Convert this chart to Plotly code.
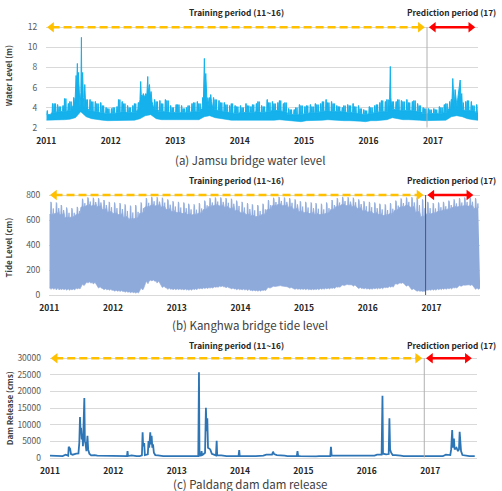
import pandas as pd
import plotly.graph_objects as go

FONT = "Noto Sans CJK KR"

# ---------------- data ----------------
year_ticks = [2011, 2012, 2013, 2014, 2015, 2016, 2017]
first_month = "2011-01-01"
train_start = "2011-01-01"
split_date = "2016-11-28"
pred_end = "2017-09-02"
period_titles = ["Training period (11~16)", "Prediction period (17)"]
captions = ["(a) Jamsu bridge water level", "(b) Kanghwa bridge tide level",
            "(c) Paldang dam dam release"]
y_titles = ["Water Level (m)", "Tide Level (cm)", "Dam Release (cms)"]

# (a) Jamsu bridge water level (m): monthly band top / bottom and two spring-tide teeth
wl_band_top = [
    3.3, 3.5, 3.6, 3.6, 3.7, 4.2, 4.5, 3.9, 3.7, 3.6, 3.5, 3.4,
    3.4, 3.5, 3.6, 3.5, 3.5, 3.8, 4.5, 4.6, 3.8, 3.6, 3.6, 3.5,
    3.5, 3.5, 3.5, 3.6, 3.6, 3.9, 4.0, 3.8, 3.7, 3.6, 3.5, 3.4,
    3.5, 3.5, 3.5, 3.6, 3.5, 3.6, 3.7, 3.7, 3.6, 3.3, 3.3, 3.3,
    3.4, 3.5, 3.5, 3.6, 3.7, 3.6, 3.6, 3.6, 3.5, 3.5, 3.4, 3.3,
    3.4, 3.5, 3.6, 3.6, 3.8, 3.8, 3.7, 3.7, 3.7, 3.6, 3.4, 3.4,
    3.4, 3.4, 3.5, 3.9, 4.0, 3.8, 3.7, 3.7, 3.5]
wl_band_bottom = [
    2.75, 2.75, 2.8, 2.8, 2.85, 3.0, 3.6, 3.1, 2.9, 2.8, 2.75, 2.7,
    2.7, 2.7, 2.75, 2.75, 2.75, 2.9, 3.2, 3.3, 2.9, 2.8, 2.8, 2.75,
    2.75, 2.75, 2.75, 2.8, 2.8, 3.1, 3.2, 3.0, 2.9, 2.8, 2.75, 2.75,
    2.75, 2.75, 2.75, 2.75, 2.7, 2.7, 2.75, 2.8, 2.75, 2.65, 2.6, 2.6,
    2.7, 2.7, 2.7, 2.75, 2.8, 2.75, 2.7, 2.7, 2.7, 2.7, 2.65, 2.6,
    2.7, 2.7, 2.75, 2.8, 3.0, 2.9, 2.8, 2.8, 2.8, 2.75, 2.7, 2.7,
    2.7, 2.7, 2.75, 3.1, 3.2, 3.1, 2.9, 2.8, 2.7]
wl_tooth_a = [
    3.7, 4.4, 4.3, 4.2, 4.4, 5.0, 5.0, 5.0, 4.8, 4.6, 4.5, 4.0,
    3.9, 4.1, 4.6, 4.2, 4.2, 4.5, 5.0, 5.0, 4.8, 4.7, 4.8, 4.2,
    4.3, 4.2, 4.0, 4.4, 4.6, 5.0, 5.4, 5.0, 4.7, 4.5, 4.2, 4.2,
    4.2, 4.4, 4.1, 4.4, 4.2, 4.8, 4.6, 4.5, 4.4, 3.9, 3.8, 4.3,
    4.1, 4.3, 4.4, 4.4, 4.8, 4.6, 4.2, 4.0, 4.3, 4.4, 4.2, 3.8,
    4.1, 4.2, 4.5, 4.6, 5.0, 4.6, 4.7, 4.8, 4.6, 4.4, 4.0, 3.9,
    3.9, 4.1, 4.3, 4.6, 4.6, 4.8, 4.6, 4.6, 4.3]
wl_tooth_b = [
    3.3, 4.4, 4.1, 4.9, 4.6, 5.2, 5.0, 4.8, 4.6, 4.4, 4.2, 3.9,
    4.0, 4.8, 4.4, 4.0, 4.4, 4.6, 5.2, 5.0, 4.6, 4.4, 4.7, 4.0,
    4.3, 3.9, 4.2, 4.5, 4.4, 5.2, 5.0, 4.8, 4.5, 4.3, 4.4, 4.1,
    4.0, 4.2, 4.3, 4.6, 4.1, 4.5, 4.4, 4.7, 4.5, 3.8, 4.0, 4.2,
    4.2, 4.1, 4.3, 4.6, 4.5, 4.4, 4.1, 4.2, 4.2, 4.1, 3.9, 3.7,
    4.0, 4.3, 4.7, 4.8, 4.6, 4.8, 4.6, 4.5, 4.7, 4.2, 3.9, 3.8,
    3.8, 4.0, 4.4, 4.8, 4.5, 4.5, 4.7, 4.2, 3.6]
wl_floods = [
    ("2011-06-14", 5.0), ("2011-06-19", 7.2), ("2011-06-22", 6.0), ("2011-06-26", 8.4),
    ("2011-06-29", 6.5), ("2011-07-02", 7.5), ("2011-07-06", 5.0), ("2011-07-11", 4.0),
    ("2011-07-16", 5.5), ("2011-07-19", 11.0), ("2011-07-21", 6.0), ("2011-07-26", 7.5),
    ("2011-07-30", 5.0), ("2011-08-07", 6.3), ("2011-08-11", 4.6),
    ("2012-06-15", 4.8), ("2012-06-19", 6.6), ("2012-06-22", 5.3), ("2012-06-27", 5.0),
    ("2012-07-04", 5.4), ("2012-07-11", 5.0), ("2012-07-18", 5.4), ("2012-07-24", 5.2),
    ("2012-07-29", 7.1), ("2012-08-01", 5.5), ("2012-08-08", 6.3), ("2012-08-12", 5.0),
    ("2012-08-17", 5.6), ("2012-08-22", 4.6),
    ("2013-06-10", 5.0), ("2013-06-15", 8.9), ("2013-06-18", 6.0), ("2013-06-23", 7.4),
    ("2013-06-27", 5.2), ("2013-07-05", 5.0), ("2013-07-21", 5.3), ("2013-07-25", 4.6),
    ("2016-04-30", 4.8), ("2016-05-04", 8.1), ("2016-05-07", 5.0),
    ("2017-04-19", 4.8), ("2017-04-23", 6.9), ("2017-04-27", 5.0), ("2017-05-06", 5.8),
    ("2017-05-10", 4.6), ("2017-05-22", 5.0), ("2017-06-04", 6.75), ("2017-06-08", 5.0),
    ("2017-06-13", 5.4)]

# (b) Kanghwa bridge tide level (cm): monthly spring-tide top, neap top, low envelope
tide_spring = [
    745, 740, 720, 700, 695, 705, 770, 780, 778, 775, 760, 745,
    740, 735, 725, 715, 720, 740, 775, 785, 782, 778, 765, 750,
    745, 740, 730, 725, 735, 755, 775, 780, 780, 775, 770, 755,
    745, 735, 725, 720, 730, 760, 778, 785, 780, 775, 765, 750,
    745, 740, 735, 730, 740, 760, 775, 785, 782, 778, 765, 750,
    745, 740, 730, 725, 735, 755, 772, 780, 782, 778, 765, 745,
    735, 740, 745, 755, 765, 775, 780, 782, 775]
tide_neap = [
    640, 650, 640, 615, 620, 640, 700, 715, 710, 705, 680, 660,
    650, 640, 620, 605, 610, 650, 700, 715, 712, 700, 680, 665,
    655, 650, 640, 640, 650, 680, 705, 715, 710, 700, 690, 670,
    655, 640, 630, 625, 640, 680, 710, 720, 710, 700, 685, 665,
    655, 650, 645, 640, 650, 680, 705, 718, 712, 705, 690, 670,
    660, 650, 640, 635, 645, 675, 700, 710, 700, 660, 625, 645,
    650, 665, 675, 685, 700, 705, 710, 710, 690]
tide_low = [
    55, 55, 50, 50, 48, 55, 75, 105, 100, 65, 50, 45,
    38, 35, 30, 25, 22, 40, 90, 120, 110, 70, 55, 50,
    50, 48, 45, 50, 55, 58, 60, 65, 72, 65, 55, 50,
    48, 45, 40, 38, 40, 55, 68, 75, 72, 60, 52, 50,
    50, 48, 50, 52, 55, 58, 65, 75, 85, 80, 60, 55,
    52, 55, 58, 62, 70, 85, 98, 80, 50, 35, 32, 42,
    45, 50, 52, 55, 60, 70, 80, 82, 55]
tide_low_mid = [
    45, 40, 42, 38, 40, 48, 85, 95, 88, 55, 42, 38,
    30, 28, 22, 18, 15, 55, 110, 112, 95, 60, 45, 42,
    42, 40, 38, 42, 48, 52, 55, 62, 66, 58, 48, 42,
    40, 36, 32, 30, 35, 60, 70, 72, 66, 55, 45, 44,
    42, 40, 42, 45, 48, 52, 62, 80, 82, 70, 52, 48,
    45, 48, 50, 58, 62, 90, 92, 70, 42, 30, 28, 38,
    38, 42, 45, 48, 55, 75, 78, 75, 45]

# (c) Paldang dam release (cms): monthly base flow and release events
dam_base = [
    600, 550, 500, 900, 900, 1200, 2500, 1200, 800, 600, 500, 500,
    500, 450, 500, 700, 500, 500, 900, 900, 700, 500, 450, 450,
    450, 450, 500, 600, 800, 1500, 2000, 1200, 700, 500, 450, 500,
    450, 400, 450, 500, 600, 900, 1300, 800, 600, 500, 700, 450,
    400, 400, 400, 450, 600, 1000, 600, 500, 450, 400, 500, 500,
    500, 600, 900, 1200, 1500, 800, 600, 500, 500, 450, 400, 400,
    400, 400, 450, 900, 2000, 2000, 700, 500, 450]
dam_events = [
    ("2011-04-16", 600), ("2011-04-19", 3300), ("2011-04-23", 2900), ("2011-04-27", 2700),
    ("2011-05-02", 1100), ("2011-05-12", 900), ("2011-06-14", 1300), ("2011-06-19", 4500),
    ("2011-06-23", 12300), ("2011-06-26", 8000), ("2011-06-29", 9000), ("2011-07-03", 5500),
    ("2011-07-07", 7200), ("2011-07-10", 3500), ("2011-07-14", 15000), ("2011-07-18", 18000),
    ("2011-07-21", 5000), ("2011-07-25", 4200), ("2011-07-30", 2000), ("2011-08-05", 6600),
    ("2011-08-09", 2500), ("2011-08-16", 1200), ("2011-08-26", 700),
    ("2012-03-20", 500), ("2012-03-23", 2000), ("2012-03-26", 500), ("2012-06-14", 700),
    ("2012-06-18", 7650), ("2012-06-21", 3500), ("2012-06-27", 4400), ("2012-07-01", 800),
    ("2012-07-18", 1000), ("2012-07-22", 5000), ("2012-07-26", 3000), ("2012-08-01", 7650),
    ("2012-08-05", 4000), ("2012-08-09", 6600), ("2012-08-13", 3000), ("2012-08-17", 4000),
    ("2012-08-22", 1500), ("2012-08-30", 800),
    ("2013-05-05", 500), ("2013-05-09", 25770), ("2013-05-12", 600), ("2013-05-21", 700),
    ("2013-05-24", 2000), ("2013-05-27", 700), ("2013-06-13", 1500), ("2013-06-18", 15090),
    ("2013-06-22", 8000), ("2013-06-26", 11900), ("2013-06-30", 3000), ("2013-07-06", 2800),
    ("2013-07-13", 2500), ("2013-07-22", 1200), ("2013-08-15", 700), ("2013-08-19", 5130),
    ("2013-08-22", 700), ("2013-12-23", 500), ("2013-12-27", 2300), ("2013-12-30", 500),
    ("2014-07-04", 900), ("2014-07-10", 1800), ("2014-07-16", 1100), ("2014-11-24", 500),
    ("2014-11-28", 2000), ("2014-12-02", 500),
    ("2015-06-05", 500), ("2015-06-09", 3300), ("2015-06-13", 600),
    ("2016-03-27", 900), ("2016-04-01", 18700), ("2016-04-04", 1200), ("2016-04-22", 1000),
    ("2016-05-07", 1100), ("2016-05-11", 11900), ("2016-05-15", 2500), ("2016-05-21", 1500),
    ("2016-05-30", 800),
    ("2017-04-27", 800), ("2017-05-02", 2500), ("2017-05-08", 8360), ("2017-05-12", 3000),
    ("2017-05-18", 5800), ("2017-05-22", 2500), ("2017-06-02", 3000), ("2017-06-10", 2000),
    ("2017-06-16", 2500), ("2017-06-20", 7850), ("2017-06-24", 2500), ("2017-06-28", 2000),
    ("2017-07-06", 800)]

# ---------------- build paths ----------------
D = lambda d: pd.Timedelta(days=d)
months = pd.date_range(first_month, periods=len(wl_band_top), freq="MS")


def merge(regular, events, window):
    ev = [(pd.Timestamp(d), v) for d, v in events]
    keep = [(t, v) for t, v in regular
            if all(abs((t - e).days) > window for e, _ in ev)]
    pts = sorted(keep + ev)
    return [p[0] for p in pts], [p[1] for p in pts]


wl_reg = []
for i, ms in enumerate(months):
    top, a, b = wl_band_top[i], wl_tooth_a[i], wl_tooth_b[i]
    wl_reg += [(ms, top), (ms + D(2), top), (ms + D(4), a), (ms + D(6), a), (ms + D(8), top),
               (ms + D(11), top), (ms + D(13), b), (ms + D(14), b), (ms + D(16), top),
               (ms + D(19), top), (ms + D(21), b), (ms + D(23), top)]
wl_up_x, wl_up_y = merge(wl_reg, wl_floods, 3)
wl_lo_x = [months[0]] + [ms + D(14) for ms in months] + [months[-1] + D(27)]
wl_lo_y = [wl_band_bottom[0]] + wl_band_bottom + [wl_band_bottom[-1]]

td_up_x, td_up_y = [], []
for i, ms in enumerate(months):
    n, s = tide_neap[i], tide_spring[i]
    for dd, v in [(0, n), (7, n + 10), (9, s), (12, s - 10), (14, n),
                  (21, n + 15), (23, (n + s) / 2), (25, n + 5)]:
        td_up_x.append(ms + D(dd))
        td_up_y.append(v)
td_lo_x, td_lo_y = [months[0]], [tide_low[0]]
for i, ms in enumerate(months):
    td_lo_x += [ms + D(4), ms + D(9), ms + D(19), ms + D(25)]
    td_lo_y += [tide_low[i], tide_low_mid[i], tide_low[i], tide_low_mid[i]]
td_lo_x.append(months[-1] + D(36))
td_lo_y.append(tide_low[-1])

dam_reg = []
for i, ms in enumerate(months):
    dam_reg += [(ms, dam_base[i]), (ms + D(14), dam_base[i])]
dam_x, dam_y = merge(dam_reg, dam_events, 10)

# ---------------- figure ----------------
W, H = 502, 491
panels = [
    dict(left=46.3, right=478.0, bottom=127.7, top=21.28, xr=["2011-01-01", "2017-09-13"],
         yr=[2, 12.6], tv=[2, 4, 6, 8, 10, 12], ytop=12, ybot=2, split_color="#b0b0b0",
         title_y=12.2, cap_y=159.5, ytitle_x=8.3, ytitle_y=76),
    dict(left=49.3, right=480.0, bottom=295.0, top=188.75, xr=["2011-01-01", "2017-10-06"],
         yr=[0, 850], tv=[0, 200, 400, 600, 800], ytop=800, ybot=0, split_color="#4d5670",
         title_y=180.3, cap_y=325, ytitle_x=7.5, ytitle_y=248),
    dict(left=50.0, right=477.0, bottom=457.7, top=351.67, xr=["2011-01-01", "2017-09-28"],
         yr=[0, 32000], tv=[0, 5000, 10000, 15000, 20000, 25000, 30000], ytop=30000, ybot=0,
         split_color="#b0b0b0", title_y=344.5, cap_y=483.5, ytitle_x=9.3, ytitle_y=408),
]

fig = go.Figure()
WL = "#14b1ec"
TIDE = "#8eaadb"
DAM = "#2e75b6"

fig.add_trace(go.Scatter(x=wl_lo_x, y=wl_lo_y, mode="lines", line=dict(color=WL, width=0.6),
                         xaxis="x", yaxis="y", hoverinfo="skip"))
fig.add_trace(go.Scatter(x=wl_up_x, y=wl_up_y, mode="lines", line=dict(color=WL, width=1.0),
                         fill="tonexty", fillcolor=WL, xaxis="x", yaxis="y", hoverinfo="skip"))
fig.add_trace(go.Scatter(x=td_lo_x, y=td_lo_y, mode="lines", line=dict(color=TIDE, width=0.6),
                         xaxis="x2", yaxis="y2", hoverinfo="skip"))
fig.add_trace(go.Scatter(x=td_up_x, y=td_up_y, mode="lines", line=dict(color=TIDE, width=0.8),
                         fill="tonexty", fillcolor=TIDE, xaxis="x2", yaxis="y2", hoverinfo="skip"))
fig.add_trace(go.Scatter(x=dam_x, y=dam_y, mode="lines", line=dict(color=DAM, width=1.8),
                         xaxis="x3", yaxis="y3", hoverinfo="skip"))

t0 = pd.Timestamp(train_start)
ts = pd.Timestamp(split_date)
te = pd.Timestamp(pred_end)
head = 30  # days from marker centre to arrow tip

annotations = []
shapes = []
for k, p in enumerate(panels):
    sx = "" if k == 0 else str(k + 1)
    xa, ya = "x" + sx, "y" + sx
    fig.update_layout({
        "xaxis" + sx: dict(
            domain=[p["left"] / W, p["right"] / W], range=p["xr"], type="date",
            anchor=ya, tickvals=[f"{y}-01-01" for y in year_ticks],
            ticktext=[str(y) for y in year_ticks], showgrid=False, zeroline=False,
            showline=True, linecolor="#d9d9d9", linewidth=1, ticks="", automargin=False,
            tickfont=dict(family=FONT, size=8.5, color="#262626", weight="bold"),
            ticklabelstandoff=5, fixedrange=True),
        "yaxis" + sx: dict(
            domain=[1 - p["bottom"] / H, 1 - p["top"] / H], range=p["yr"], anchor=xa,
            tickvals=p["tv"], ticktext=[str(v) for v in p["tv"]], showgrid=True,
            gridcolor="#d9d9d9", gridwidth=1, zeroline=False, showline=False, ticks="",
            automargin=False,
            tickfont=dict(family=FONT, size=8.5, color="#595959"),
            ticklabelstandoff=8, fixedrange=True),
    })
    yt = p["ytop"]
    shapes.append(dict(type="line", xref=xa, yref=ya, x0=ts, x1=ts, y0=p["ybot"], y1=yt,
                       line=dict(color=p["split_color"], width=1), layer="above"))
    xl, xr_ = t0 + D(head), ts - D(head + 8)
    fig.add_trace(go.Scatter(x=[xl, xr_], y=[yt, yt], mode="lines", xaxis=xa, yaxis=ya,
                             line=dict(color="#ffc000", width=2.6, dash="8px,4px"),
                             hoverinfo="skip", cliponaxis=False))
    fig.add_trace(go.Scatter(x=[xl, xr_], y=[yt, yt], mode="markers", xaxis=xa, yaxis=ya,
                             marker=dict(symbol=["triangle-left", "triangle-right"], size=9,
                                         color="#ffc000"),
                             hoverinfo="skip", cliponaxis=False))
    pl, pr = ts + D(head + 6), te - D(head)
    fig.add_trace(go.Scatter(x=[pl, pr], y=[yt, yt], mode="lines", xaxis=xa, yaxis=ya,
                             line=dict(color="#ff0000", width=2.6),
                             hoverinfo="skip", cliponaxis=False))
    fig.add_trace(go.Scatter(x=[pl, pr], y=[yt, yt], mode="markers", xaxis=xa, yaxis=ya,
                             marker=dict(symbol=["triangle-left", "triangle-right"], size=9,
                                         color="#ff0000"),
                             hoverinfo="skip", cliponaxis=False))
    annotations.append(dict(text=period_titles[0], xref="paper", yref="paper",
                            x=236 / W, y=1 - p["title_y"] / H, showarrow=False,
                            xanchor="center", yanchor="middle",
                            font=dict(family=FONT, size=8.3, color="#262626", weight="bold")))
    annotations.append(dict(text=period_titles[1], xref="paper", yref="paper",
                            x=451 / W, y=1 - p["title_y"] / H, showarrow=False,
                            xanchor="center", yanchor="middle",
                            font=dict(family=FONT, size=8.3, color="#262626", weight="bold")))
    annotations.append(dict(text=captions[k], xref="paper", yref="paper",
                            x=249.5 / W, y=1 - p["cap_y"] / H, showarrow=False,
                            xanchor="center", yanchor="middle",
                            font=dict(family=FONT, size=11.5, color="#404040")))
    annotations.append(dict(text=y_titles[k], xref="paper", yref="paper",
                            x=p["ytitle_x"] / W, y=1 - p["ytitle_y"] / H, showarrow=False,
                            textangle=-90, xanchor="center", yanchor="middle",
                            font=dict(family=FONT, size=8, color="#404040", weight="bold")))

fig.update_layout(width=W, height=H, margin=dict(l=0, r=0, t=0, b=0, autoexpand=False),
                  paper_bgcolor="white", plot_bgcolor="white", showlegend=False,
                  annotations=annotations, shapes=shapes,
                  font=dict(family=FONT))

fig.write_html("out.html", config={"displayModeBar": False})
